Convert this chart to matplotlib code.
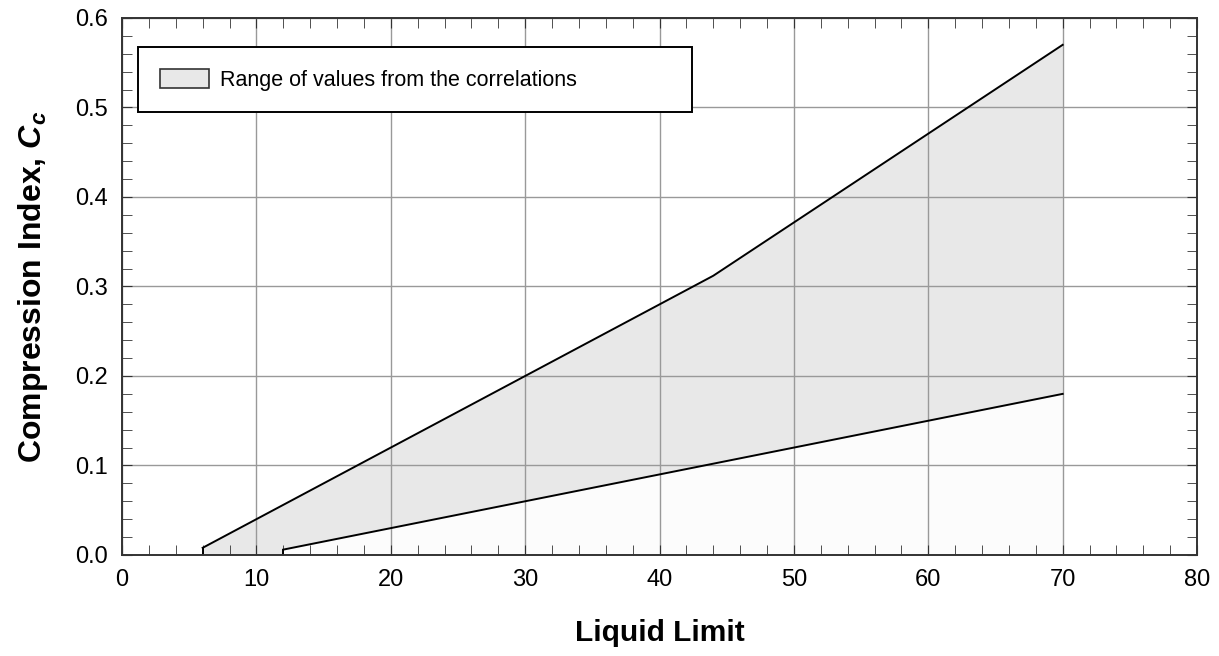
import numpy as np
import matplotlib
matplotlib.use("Agg")
import matplotlib.pyplot as plt
from matplotlib.patches import Patch
from matplotlib.ticker import MultipleLocator, FormatStrFormatter

plt.rcParams.update({"font.family": "Liberation Sans", "font.size": 17,
                     "mathtext.fontset": "custom",
                     "mathtext.rm": "Liberation Sans",
                     "mathtext.it": "Liberation Sans:italic",
                     "mathtext.bf": "Liberation Sans:bold",
                     "mathtext.bfit": "Liberation Sans:italic:bold"})

# bounding correlations for Cc vs liquid limit
upper_ll = [6, 44, 70]
upper_cc = [0.008, 0.312, 0.57]
lower_ll = [12, 70]
lower_cc = [0.006, 0.18]

fig = plt.figure(figsize=(12.19, 6.56), dpi=100)
ax = fig.add_axes([0.1001, 0.154, 0.8819, 0.8186])

# shaded band between the bounds
poly_x = [upper_ll[0]] + upper_ll + lower_ll[::-1] + [lower_ll[0]]
poly_y = [0] + upper_cc + lower_cc[::-1] + [0]
ax.fill(poly_x, poly_y, color="#e8e8e8", lw=0, zorder=1)
ax.fill_between(lower_ll, lower_cc, 0, color="#fcfcfc", lw=0, zorder=1)

ax.plot([upper_ll[0], upper_ll[0]], [0, upper_cc[0]], color="k", lw=1.4, zorder=3)
ax.plot(upper_ll, upper_cc, color="k", lw=1.4, zorder=3)
ax.plot([lower_ll[0], lower_ll[0]], [0, lower_cc[0]], color="k", lw=1.4, zorder=3)
ax.plot(lower_ll, lower_cc, color="k", lw=1.4, zorder=3)

ax.set_xlim(0, 80)
ax.set_ylim(0, 0.6)
ax.xaxis.set_major_locator(MultipleLocator(10))
ax.xaxis.set_minor_locator(MultipleLocator(2))
ax.yaxis.set_major_locator(MultipleLocator(0.1))
ax.yaxis.set_minor_locator(MultipleLocator(0.02))
ax.yaxis.set_major_formatter(FormatStrFormatter("%.1f"))
ax.tick_params(which="both", direction="in", top=True, right=True, color="#333333")
ax.tick_params(which="major", length=7, labelsize=17, pad=10)
ax.tick_params(which="minor", length=7)
ax.grid(True, which="major", color="#999999", lw=1, zorder=2)
ax.set_axisbelow(False)
for s in ax.spines.values():
    s.set_color("#333333")
    s.set_linewidth(1.4)
    s.set_zorder(4)

ax.set_xlabel("Liquid Limit", fontsize=21.5, fontweight="bold", labelpad=20)
ax.set_ylabel(r"Compression Index, $\mathbfit{C_c}$", fontsize=23,
              fontweight="bold", labelpad=18)

handle = Patch(facecolor="#e8e8e8", edgecolor="#333333", lw=1.2)
leg = ax.legend([handle], ["Range of values from the correlations"],
                loc="upper left", bbox_to_anchor=(0.015, 0.896, 0.515, 0.05),
                mode="expand", fancybox=False, framealpha=1, edgecolor="k",
                fontsize=15.5, handlelength=2.3, handleheight=1.0,
                borderpad=1.0, handletextpad=0.5, borderaxespad=0)
leg.get_frame().set_linewidth(1.4)
leg.set_zorder(5)

fig.savefig("out.png", dpi=100)
